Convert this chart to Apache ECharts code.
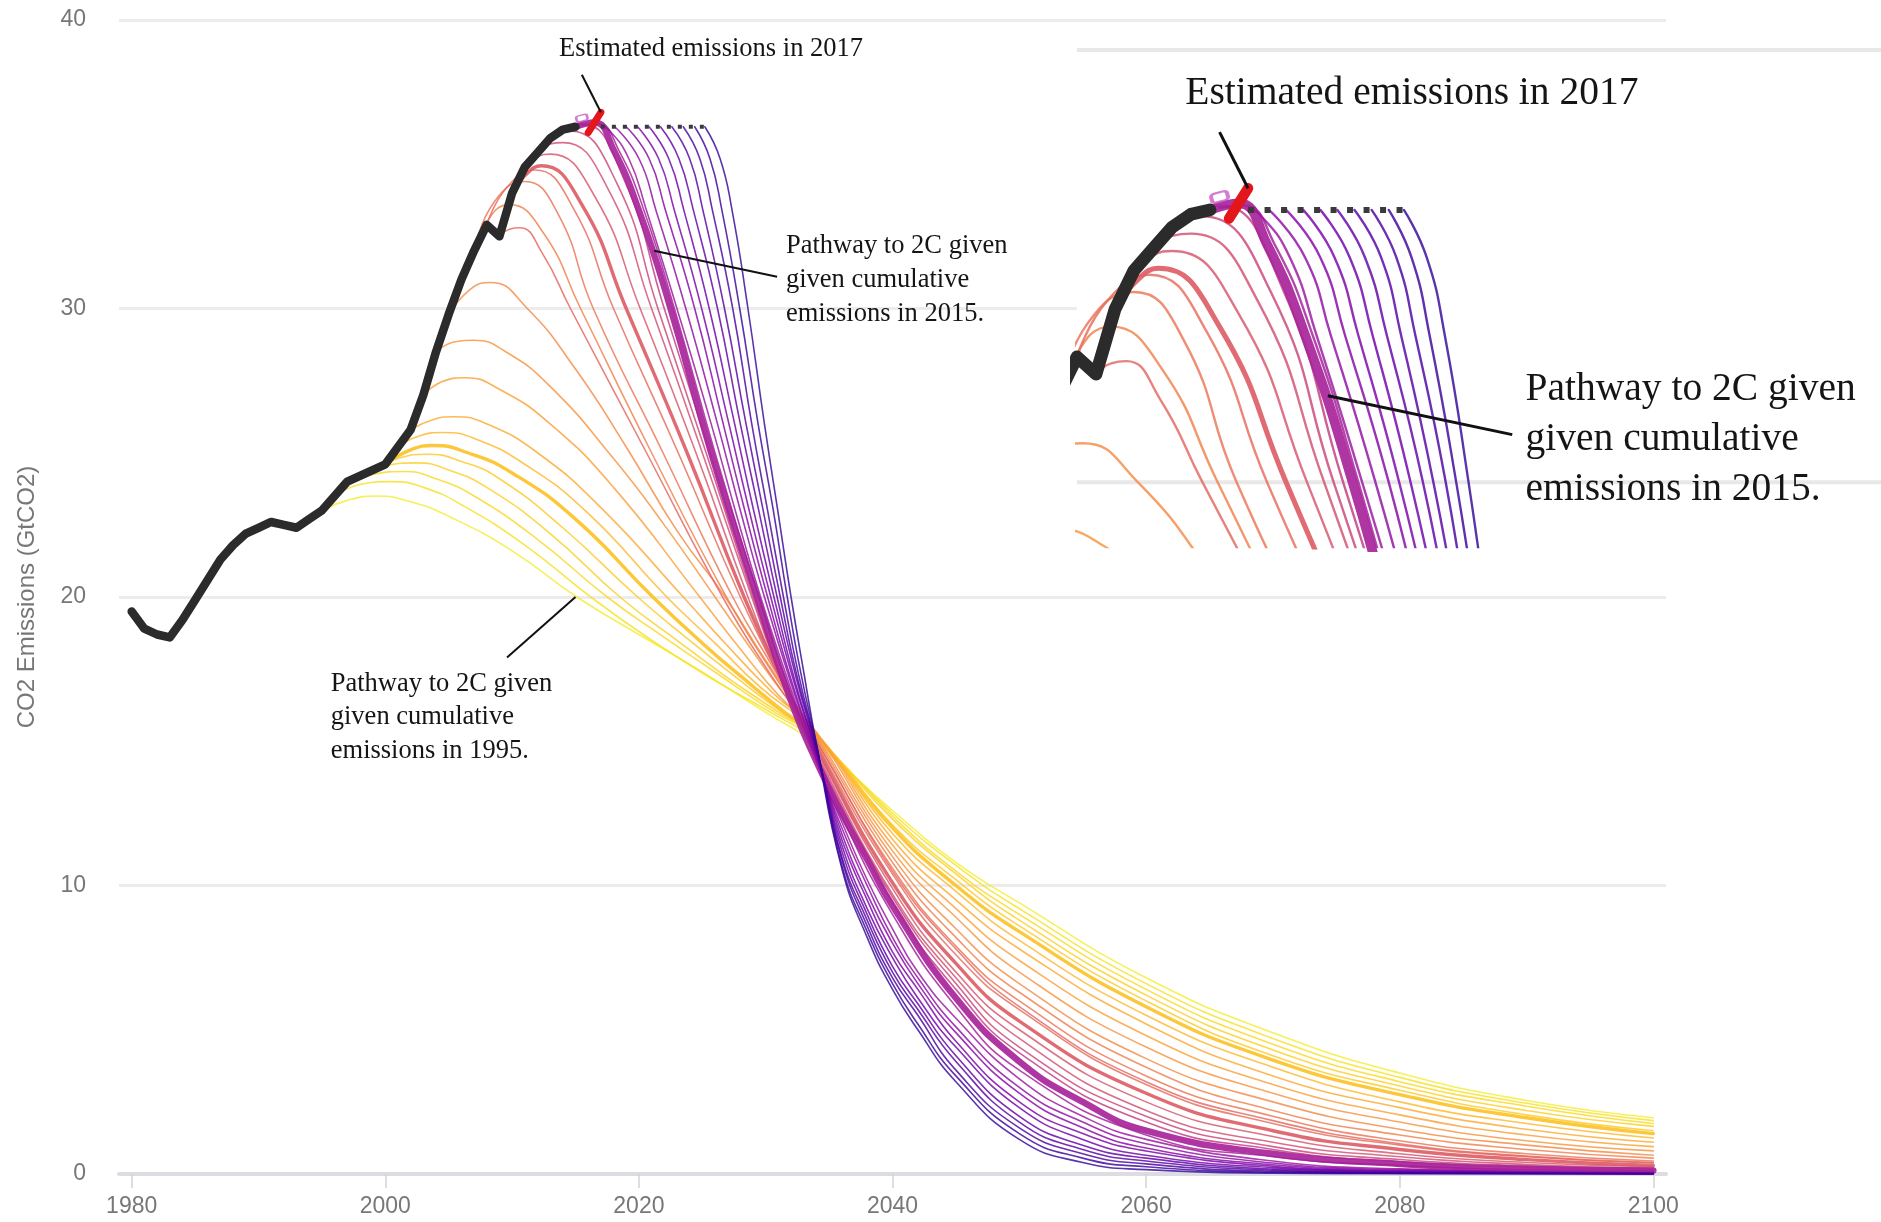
<!DOCTYPE html>
<html>
<head>
<meta charset="utf-8">
<title>CO2 emission pathways to 2C</title>
<script src="https://cdn.jsdelivr.net/npm/echarts@6/dist/echarts.min.js"></script>
<style>
  html, body { margin: 0; padding: 0; background: #ffffff; }
  #chart { width: 1881px; height: 1222px; }
</style>
</head>
<body>
<div id="chart"></div>
<script>
// ---------------------------------------------------------------
// Data (GtCO2 per year)
// ---------------------------------------------------------------
const xTicks = [1980, 2000, 2020, 2040, 2060, 2080, 2100];

// Historical fossil CO2 emissions
const history = [[1980,19.5],[1981,18.9],[1982,18.7],[1983,18.6],[1984,19.2],[1985,19.9],[1986,20.6],[1987,21.3],[1988,21.8],[1989,22.2],[1990,22.4],[1991,22.6],[1992,22.5],[1993,22.4],[1994,22.7],[1995,23.0],[1996,23.5],[1997,24.0],[1998,24.2],[1999,24.4],[2000,24.6],[2001,25.2],[2002,25.8],[2003,27.0],[2004,28.5],[2005,29.8],[2006,31.0],[2007,32.0],[2008,32.9],[2009,32.5],[2010,34.0],[2011,34.9],[2012,35.4],[2013,35.9],[2014,36.2],[2015,36.3]];

// Emissions held flat at today's level, and the 2017 estimate
const constantEmissions = [[2017.0,36.3],[2025.2,36.3]];
const estimate2017 = [[2016.0,36.1],[2017.0,36.8]];
const estimate2016 = [[2015.5,36.6]];

// 2C pathways given the cumulative emissions up to each year
const path1995 = [[1995,23.0],[1997,23.35],[1999.3,23.5],[2002,23.3],[2005,22.8],[2010,21.6],[2015.1,20.0],[2020,18.7],[2025,17.4],[2030,16.0],[2034,14.9],[2040,12.6],[2045,10.8],[2050,9.4],[2060,6.8],[2070,4.9],[2080,3.5],[2090,2.55],[2100,1.95]];
const path1996 = [[1996,23.5],[1998,23.9],[2000.5,24.0],[2003,23.8],[2006,23.2],[2011,21.8],[2016.2,20.0],[2021,18.5],[2026,17.1],[2030,16.1],[2034,15.0],[2040,12.5],[2045,10.7],[2050,9.2],[2060,6.6],[2070,4.7],[2080,3.35],[2090,2.45],[2100,1.85]];
const path1997 = [[1997,24.0],[1999,24.25],[2001.5,24.35],[2004,24.1],[2007,23.5],[2012,22.0],[2017.5,20.0],[2022,18.6],[2026,17.4],[2030,16.2],[2034,15.1],[2040,12.4],[2045,10.5],[2050,9.0],[2060,6.4],[2070,4.5],[2080,3.2],[2090,2.35],[2100,1.75]];
const path1998 = [[1998,24.2],[2000,24.55],[2002.5,24.65],[2005,24.4],[2008,23.8],[2013,22.2],[2018.5,20.0],[2023,18.5],[2027,17.2],[2030,16.3],[2034,15.1],[2040,12.3],[2045,10.4],[2050,8.8],[2060,6.2],[2070,4.3],[2080,3.05],[2090,2.2],[2100,1.65]];
const path1999 = [[1999,24.4],[2001,24.8],[2003.3,24.95],[2006,24.7],[2009,24.1],[2014,22.4],[2019.9,20.0],[2024,18.5],[2028,17.1],[2031,16.1],[2034,15.2],[2040,12.1],[2045,10.2],[2050,8.6],[2060,6.0],[2070,4.1],[2080,2.9],[2090,2.05],[2100,1.5]];
const path2000 = [[2000,24.6],[2002,25.1],[2003.8,25.25],[2006.5,25.0],[2010,24.3],[2015,22.7],[2021.1,20.0],[2025,18.4],[2029,16.9],[2031.5,16.0],[2034,15.2],[2040,12.0],[2045,10.0],[2050,8.4],[2060,5.8],[2070,3.95],[2080,2.75],[2090,1.95],[2100,1.4]];
const path2001 = [[2001,25.2],[2002.8,25.6],[2004.5,25.7],[2007,25.5],[2011,24.6],[2016,22.9],[2022.2,20.0],[2026,18.4],[2029.5,16.9],[2034,15.25],[2040,11.8],[2045,9.8],[2050,8.1],[2060,5.5],[2070,3.7],[2080,2.5],[2090,1.75],[2100,1.25]];
const path2002 = [[2002,25.8],[2003.8,26.15],[2005.4,26.25],[2008,26.0],[2012,25.0],[2017,23.1],[2023.5,20.0],[2027,18.3],[2030.5,16.7],[2034,15.3],[2040,11.6],[2045,9.5],[2050,7.8],[2060,5.2],[2070,3.4],[2080,2.3],[2090,1.55],[2100,1.1]];
const path2003 = [[2003,27.0],[2004.7,27.5],[2006.3,27.6],[2009,27.2],[2013,26.0],[2018,23.8],[2024.8,20.0],[2028,18.2],[2031,16.6],[2034,15.3],[2040,11.4],[2045,9.2],[2050,7.4],[2060,4.8],[2070,3.1],[2080,2.05],[2090,1.35],[2100,0.95]];
const path2004 = [[2004,28.5],[2005.5,28.85],[2007,28.9],[2009.5,28.5],[2013,27.3],[2018,24.8],[2022,22.5],[2026.0,20.0],[2029,18.1],[2031.5,16.6],[2034,15.3],[2040,11.2],[2045,8.9],[2050,7.0],[2060,4.4],[2070,2.8],[2080,1.8],[2090,1.15],[2100,0.8]];
const path2005 = [[2005,29.8],[2006.8,30.7],[2008.3,30.9],[2011.2,30.0],[2015,27.9],[2019,25.2],[2023,22.3],[2026.8,20.0],[2030,17.8],[2034,15.2],[2040,11.0],[2045,8.5],[2050,6.6],[2060,4.0],[2070,2.5],[2080,1.55],[2090,1.0],[2100,0.65]];
const path2006 = [[2006,31.0],[2007.6,32.7],[2009.8,33.6],[2012.5,32.6],[2015.4,30.0],[2021.0,25.0],[2026.9,20.0],[2030.5,17.4],[2034,15.1],[2040,10.8],[2045,8.2],[2050,6.3],[2060,3.7],[2070,2.2],[2080,1.35],[2090,0.85],[2100,0.55]];
const path2007 = [[2007,32.0],[2008.6,33.7],[2011,34.4],[2013.6,33.3],[2016.4,30.0],[2021.9,25.0],[2027.4,20.0],[2030.8,17.4],[2034,15.0],[2040,10.6],[2045,7.9],[2050,6.0],[2060,3.4],[2070,2.0],[2080,1.15],[2090,0.7],[2100,0.45]];
const path2008 = [[2008,32.9],[2009.6,34.2],[2011.8,34.8],[2014.8,33.5],[2018.0,30.0],[2023.1,25.0],[2028.0,20.0],[2031,17.3],[2034,14.9],[2040,10.4],[2045,7.6],[2050,5.7],[2060,3.1],[2070,1.75],[2080,1.0],[2090,0.6],[2100,0.38]];
const path2009 = [[2009,32.5],[2009.8,32.75],[2010.6,32.8],[2012.4,31.9],[2014.6,30.0],[2020.6,25.0],[2026.6,20.0],[2030.4,17.3],[2034,15.0],[2040,10.5],[2045,7.8],[2050,5.8],[2060,3.2],[2070,1.85],[2080,1.05],[2090,0.62],[2100,0.4]];
const path2010 = [[2010,34.0],[2011,34.6],[2012.3,34.95],[2015.5,33.6],[2019.0,30.0],[2023.8,25.0],[2028.3,20.0],[2031.2,17.2],[2034,14.8],[2040,10.1],[2045,7.3],[2050,5.3],[2060,2.8],[2070,1.5],[2080,0.85],[2090,0.5],[2100,0.3]];
const path2011 = [[2011,34.9],[2012,35.25],[2013.0,35.35],[2016.5,33.9],[2020.1,30.0],[2024.5,25.0],[2028.6,20.0],[2031.3,17.1],[2034,14.7],[2040,9.9],[2045,7.0],[2050,5.0],[2060,2.5],[2070,1.3],[2080,0.7],[2090,0.4],[2100,0.25]];
const path2012 = [[2012,35.4],[2013,35.7],[2014.0,35.75],[2017.5,34.2],[2021.0,30.0],[2025.0,25.0],[2028.9,20.0],[2031.4,17.0],[2034,14.6],[2040,9.7],[2045,6.8],[2050,4.7],[2060,2.2],[2070,1.1],[2080,0.6],[2090,0.33],[2100,0.2]];
const path2013 = [[2013,35.9],[2013.8,36.1],[2014.6,36.15],[2018.2,34.4],[2021.5,30.0],[2025.3,25.0],[2029.0,20.0],[2031.5,16.9],[2034,14.5],[2040,9.6],[2045,6.6],[2050,4.4],[2060,2.0],[2070,0.95],[2080,0.5],[2090,0.28],[2100,0.16]];
const path2014 = [[2014,36.2],[2014.9,36.35],[2015.6,36.4],[2018.8,34.5],[2022.0,30.0],[2025.6,25.0],[2029.15,20.0],[2031.6,16.8],[2034,14.4],[2040,9.4],[2045,6.4],[2050,4.2],[2060,1.8],[2070,0.85],[2080,0.42],[2090,0.23],[2100,0.14]];
const path2015 = [[2015,36.3],[2016.5,36.45],[2018,35.5],[2020,33.4],[2022.5,30.0],[2025.7,25.0],[2029.3,20.0],[2032,16.4],[2034,14.3],[2036,12.5],[2038,10.9],[2040,9.3],[2045,6.1],[2050,3.9],[2055,2.5],[2060,1.5],[2070,0.7],[2080,0.35],[2090,0.18],[2100,0.12]];
const path2016 = [[2015.5,36.35],[2016.8,36.4],[2018.4,35.5],[2020.4,33.4],[2022.8,30.0],[2026.0,25.0],[2029.45,20.0],[2032,16.6],[2034,14.5],[2036,12.4],[2040,9.0],[2045,5.8],[2050,3.6],[2060,1.35],[2070,0.6],[2080,0.3],[2090,0.15],[2100,0.1]];
// Pathways that leave the flat line in later years
const path2017 = [[2017.0,36.3],[2017.6,36.2],[2019.2,35.2],[2020.6,33.4],[2023.0,30.0],[2025.7,26.0],[2027.6,23.0],[2029.6,20.0],[2032,16.8],[2034,14.3],[2036,12.2],[2038,10.2],[2040,8.5],[2042,7.0],[2045,5.4],[2050,3.3],[2055,2.0],[2060,1.2],[2070,0.45],[2080,0.18],[2100,0.05]];
const path2018 = [[2018.1,36.3],[2020.0,35.2],[2021.35,33.4],[2023.7,30.0],[2026.2,26.0],[2028.0,23.0],[2029.9,20.0],[2032,17.0],[2034,14.4],[2036,12.0],[2038,10.0],[2040,8.2],[2042,6.8],[2045,5.1],[2050,3.0],[2055,1.8],[2060,1.05],[2070,0.38],[2080,0.15],[2100,0.04]];
const path2019 = [[2019.0,36.3],[2020.8,35.2],[2022.1,33.4],[2024.4,30.0],[2026.65,26.0],[2028.35,23.0],[2030.15,20.0],[2032.1,17.0],[2034,14.5],[2036,11.8],[2038,9.7],[2040,8.0],[2042,6.6],[2045,4.9],[2050,2.8],[2055,1.6],[2060,0.9],[2070,0.32],[2080,0.12],[2100,0.03]];
const path2020 = [[2019.9,36.3],[2021.55,35.2],[2022.8,33.4],[2024.95,30.0],[2027.1,26.0],[2028.7,23.0],[2030.4,20.0],[2032.2,17.1],[2034,14.6],[2036,11.6],[2038,9.5],[2040,7.7],[2042,6.4],[2045,4.6],[2050,2.5],[2055,1.4],[2060,0.8],[2070,0.27],[2080,0.1],[2100,0.02]];
const path2021 = [[2020.8,36.3],[2022.35,35.2],[2023.55,33.4],[2025.55,30.0],[2027.55,26.0],[2029.05,23.0],[2030.65,20.0],[2032.3,17.1],[2034,14.6],[2036,11.4],[2038,9.2],[2040,7.5],[2042,6.1],[2045,4.4],[2050,2.3],[2055,1.2],[2060,0.65],[2070,0.22],[2080,0.08],[2100,0.02]];
const path2022 = [[2021.7,36.3],[2023.15,35.2],[2024.3,33.4],[2026.2,30.0],[2028.0,26.0],[2029.45,23.0],[2030.9,20.0],[2032.4,17.2],[2034,14.7],[2036,11.2],[2038,9.0],[2040,7.2],[2042,5.9],[2045,4.1],[2050,2.0],[2055,1.0],[2060,0.55],[2070,0.17],[2080,0.06],[2100,0.01]];
const path2023 = [[2022.6,36.3],[2024.0,35.2],[2025.05,33.4],[2026.75,30.0],[2028.45,26.0],[2029.8,23.0],[2031.15,20.0],[2032.5,17.2],[2034,14.8],[2036,11.0],[2038,8.8],[2040,7.0],[2042,5.7],[2045,3.9],[2050,1.8],[2055,0.85],[2060,0.45],[2070,0.13],[2080,0.04],[2100,0.01]];
const path2024 = [[2023.5,36.3],[2024.8,35.2],[2025.8,33.4],[2027.4,30.0],[2028.9,26.0],[2030.15,23.0],[2031.4,20.0],[2032.6,17.3],[2034,14.8],[2036,10.9],[2038,8.6],[2040,6.8],[2042,5.5],[2045,3.6],[2050,1.6],[2055,0.7],[2060,0.35],[2070,0.09],[2080,0.03],[2100,0.0]];
const path2025 = [[2024.4,36.3],[2025.6,35.2],[2026.55,33.4],[2027.95,30.0],[2029.4,26.0],[2030.6,23.0],[2031.7,20.0],[2032.8,17.3],[2034,14.9],[2036,10.7],[2038,8.4],[2040,6.6],[2042,5.2],[2045,3.4],[2050,1.4],[2055,0.55],[2060,0.25],[2070,0.06],[2080,0.02],[2100,0.0]];
const path2026 = [[2025.2,36.3],[2026.4,35.2],[2027.35,33.4],[2028.6,30.0],[2029.9,26.0],[2030.95,23.0],[2032.0,20.0],[2033,17.4],[2034,14.9],[2036,10.6],[2038,8.2],[2040,6.4],[2042,5.0],[2045,3.2],[2050,1.2],[2055,0.4],[2060,0.15],[2070,0.03],[2080,0.01],[2100,0.0]];

const pathwayYears = [1995,1996,1997,1998,1999,2000,2001,2002,2003,2004,2005,2006,2007,2008,2009,2010,2011,2012,2013,2014,2015,2016,2017,2018,2019,2020,2021,2022,2023,2024,2025,2026];
const pathwayData = [path1995,path1996,path1997,path1998,path1999,path2000,path2001,path2002,path2003,path2004,path2005,path2006,path2007,path2008,path2009,path2010,path2011,path2012,path2013,path2014,path2015,path2016,path2017,path2018,path2019,path2020,path2021,path2022,path2023,path2024,path2025,path2026];

// ---------------------------------------------------------------
// Styling
// ---------------------------------------------------------------
// plasma-like ramp, yellow for the earliest pathways to indigo for the latest
const pathwayColors = ['#f3ee35','#f7e225','#f9d924','#fbd124','#fcca26','#fdc229','#feb82c','#fdaa33','#fba038','#f89540','#f48b46','#f0804d','#eb7555','#e66b5c','#e36760','#dd5e66','#d6556d','#d14f72','#ca4579','#c23b82','#a8259a','#a41e99','#9a169f','#8f0da4','#8606a6','#7a02a8','#6e00a8','#6201a6','#5601a4','#4a03a0','#3d049b','#34089a'];

function pathwayWidth(year) {
  if (year === 2015) return 6.5;
  if (year === 2000 || year === 2010) return 3.4;
  return 1.6;
}

const serifFont = '"Liberation Serif", "Times New Roman", serif';
const sansFont = '"Liberation Sans", Arial, sans-serif';

// Annotations, anchored in data coordinates (left edge / middle of first line)
const notes = {
  est: {
    anchor: [2013.7, 39.0],
    lines: ['Estimated emissions in 2017'],
    leader: [[2015.5, 38.1], [2017.0, 36.8]]
  },
  p2015: {
    anchor: [2031.6, 32.15],
    lines: ['Pathway to 2C given', 'given cumulative', 'emissions in 2015.'],
    leader: [[2021.2, 32.0], [2030.9, 31.1]]
  },
  p1995: {
    anchor: [1995.7, 17.0],
    lines: ['Pathway to 2C given', 'given cumulative', 'emissions in 1995.'],
    leader: [[2015.0, 20.0], [2009.6, 17.9]]
  }
};

// ---------------------------------------------------------------
// Series for one grid (0 = full chart, 1 = magnified inset)
// ---------------------------------------------------------------
function buildSeries(g, s, noteKeys) {
  const axes = { xAxisIndex: g, yAxisIndex: g };
  const out = [];
  pathwayData.forEach(function (d, i) {
    const yr = pathwayYears[i];
    const w = pathwayWidth(yr);
    out.push(Object.assign({
      type: 'line',
      name: 'Pathway ' + yr,
      data: d,
      smooth: 0.5,
      symbol: 'none',
      silent: true,
      z: 2,
      lineStyle: { color: pathwayColors[i], width: w * s, opacity: w > 2 ? 0.92 : 0.82, cap: 'round', join: 'round' }
    }, axes));
  });
  out.push(Object.assign({
    type: 'line', name: 'Historical emissions', data: history, symbol: 'none', silent: true, z: 3,
    lineStyle: { color: '#2b2b2b', width: 8.5 * s, cap: 'round', join: 'round' }
  }, axes));
  out.push(Object.assign({
    type: 'line', name: 'Constant emissions', data: constantEmissions, symbol: 'none', silent: true, z: 4,
    lineStyle: { color: '#3a3a3a', width: 4 * s, type: [4 * s, 7 * s] }
  }, axes));
  out.push(Object.assign({
    type: 'scatter', name: '2016', data: estimate2016, silent: true, z: 4,
    symbol: 'roundRect', symbolSize: [11 * s, 6 * s], symbolRotate: 15,
    itemStyle: { color: 'rgba(255,255,255,0.6)', borderColor: '#c85ec8', borderWidth: 2 * s }
  }, axes));
  out.push(Object.assign({
    type: 'line', name: 'Estimate 2017', data: estimate2017, symbol: 'none', silent: true, z: 5,
    lineStyle: { color: '#e3161c', width: 7 * s, cap: 'round' }
  }, axes));
  noteKeys.forEach(function (k) {
    out.push(Object.assign({
      type: 'line', name: 'leader-' + k, data: notes[k].leader, symbol: 'none', silent: true, z: 6,
      lineStyle: { color: '#111111', width: 2 * s }
    }, axes));
  });
  return out;
}

const chart = echarts.init(document.getElementById('chart'), null, { renderer: 'canvas', width: 1881, height: 1222 });

chart.setOption({
  animation: false,
  backgroundColor: '#ffffff',
  grid: [
    { left: 119, right: 215, top: 20, bottom: 48, containLabel: false, outerBoundsMode: 'none' },
    { left: 1077, top: 50, width: 804, height: 497, containLabel: false, outerBoundsMode: 'none' }
  ],
  xAxis: [
    {
      gridIndex: 0, type: 'value', min: 1979, max: 2101,
      axisLine: { show: true, onZero: false, lineStyle: { color: '#dcdde3', width: 4 } },
      axisTick: { show: true, length: 14, customValues: xTicks, lineStyle: { color: '#d4d4d4', width: 1.5 } },
      axisLabel: {
        customValues: xTicks, margin: 21, color: '#777777', fontSize: 23, fontFamily: sansFont,
        formatter: function (v) { return String(v); }
      },
      splitLine: { show: false }
    },
    { gridIndex: 1, type: 'value', min: 2008, max: 2050.3, show: false }
  ],
  yAxis: [
    {
      gridIndex: 0, type: 'value', min: 0, max: 40, interval: 10,
      name: 'CO2 Emissions (GtCO2)', nameLocation: 'middle', nameGap: 80, nameRotate: 90,
      nameTextStyle: { color: '#777777', fontSize: 24, fontFamily: sansFont },
      axisLine: { show: false },
      axisTick: { show: false },
      axisLabel: { margin: 33, color: '#777777', fontSize: 23, fontFamily: sansFont },
      splitLine: { show: true, lineStyle: { color: '#ececec', width: 3 } }
    },
    { gridIndex: 1, type: 'value', min: 28.5, max: 40, show: false }
  ],
  series: buildSeries(0, 1, ['est', 'p2015', 'p1995']).concat(buildSeries(1, 1.5, ['est', 'p2015']))
});

// ---------------------------------------------------------------
// Inset backdrop, inset gridlines and annotation text
// ---------------------------------------------------------------
function px(g, pt) { return chart.convertToPixel({ gridIndex: g }, pt); }

const elements = [];
const insetTL = px(1, [2008, 40]);
const insetBR = px(1, [2050.3, 28.5]);
elements.push({
  type: 'rect', z: 1, silent: true,
  shape: { x: insetTL[0], y: insetTL[1] - 14, width: insetBR[0] - insetTL[0], height: insetBR[1] - insetTL[1] + 16 },
  style: { fill: '#ffffff' }
});
[30, 40].forEach(function (v) {
  const a = px(1, [2008, v]);
  const b = px(1, [2050.3, v]);
  elements.push({
    type: 'line', z: 1.2, silent: true,
    shape: { x1: a[0], y1: a[1], x2: b[0], y2: b[1] },
    style: { stroke: '#e8e8e8', lineWidth: 4 }
  });
});

function addNote(g, key, fontSize, step) {
  const note = notes[key];
  const p = px(g, note.anchor);
  note.lines.forEach(function (t, i) {
    elements.push({
      type: 'text', z: 10, silent: true,
      x: p[0], y: p[1] + i * step,
      style: {
        text: t, fill: '#151515',
        font: fontSize + 'px ' + serifFont,
        textAlign: 'left', textVerticalAlign: 'middle',
        align: 'left', verticalAlign: 'middle'
      }
    });
  });
}
addNote(0, 'est', 26.5, 34);
addNote(0, 'p2015', 26.5, 34);
addNote(0, 'p1995', 26.5, 33.5);
addNote(1, 'est', 39.5, 50);
addNote(1, 'p2015', 39.5, 50);

chart.setOption({ graphic: { elements: elements } });
</script>
</body>
</html>
